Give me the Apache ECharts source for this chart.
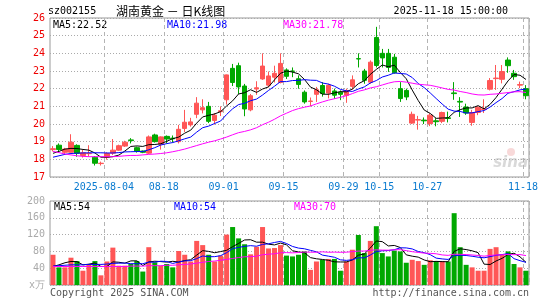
<!DOCTYPE html>
<html>
<head>
<meta charset="utf-8">
<script src="https://cdn.jsdelivr.net/npm/echarts@6/dist/echarts.min.js"></script>
<style>
html, body { margin: 0; padding: 0; background: #fff; }
#main { width: 545px; height: 300px; }
</style>
</head>
<body>
<div id="main"></div>
<script>
// trading days shown on the chart
const dates = [
    '2025-07-22','2025-07-23','2025-07-24','2025-07-25','2025-07-28','2025-07-29','2025-07-30','2025-07-31',
    '2025-08-01','2025-08-04','2025-08-05','2025-08-06','2025-08-07','2025-08-08','2025-08-11','2025-08-12',
    '2025-08-13','2025-08-14','2025-08-15','2025-08-18','2025-08-19','2025-08-20','2025-08-21','2025-08-22',
    '2025-08-25','2025-08-26','2025-08-27','2025-08-28','2025-08-29','2025-09-01','2025-09-02','2025-09-03',
    '2025-09-04','2025-09-05','2025-09-08','2025-09-09','2025-09-10','2025-09-11','2025-09-12','2025-09-15',
    '2025-09-16','2025-09-17','2025-09-18','2025-09-19','2025-09-22','2025-09-23','2025-09-24','2025-09-25',
    '2025-09-26','2025-09-29','2025-09-30','2025-10-09','2025-10-10','2025-10-13','2025-10-14','2025-10-15',
    '2025-10-16','2025-10-17','2025-10-20','2025-10-21','2025-10-22','2025-10-23','2025-10-24','2025-10-27',
    '2025-10-28','2025-10-29','2025-10-30','2025-10-31','2025-11-03','2025-11-04','2025-11-05','2025-11-06',
    '2025-11-07','2025-11-10','2025-11-11','2025-11-12','2025-11-13','2025-11-14','2025-11-17','2025-11-18'
];
// days that get a grid line + label
const markDays = ['2025-08-04','2025-08-18','2025-09-01','2025-09-15','2025-09-29','2025-10-15','2025-10-27','2025-11-18'];

const openP = [18.55,18.8,18.4,18.4,18.79,18.22,18.32,18.12,17.76,18.12,
    18.35,18.52,18.75,19.1,18.66,18.47,18.35,19.38,18.86,19.3,
    19.2,19.0,19.75,19.95,20.55,20.8,21.0,20.2,20.7,21.37,
    23.15,23.3,22.15,20.8,21.98,22.55,22.2,22.65,22.35,23.06,
    23.0,22.56,21.8,21.28,21.68,22.18,21.75,21.87,21.8,21.62,
    22.13,23.7,23.0,22.37,24.9,24.0,24.0,23.78,22.0,21.9,
    20.05,20.22,20.22,20.02,20.18,20.15,20.35,21.76,21.28,20.96,
    20.09,20.65,20.82,21.97,22.57,22.53,23.62,22.87,22.2,22.0];
const closeP = [18.6,18.56,18.58,18.97,18.34,18.37,18.33,17.78,17.78,18.33,
    18.52,18.77,18.97,19.06,18.47,18.4,19.27,19.0,19.27,19.15,
    19.16,19.7,20.1,20.12,21.18,20.92,20.15,20.5,20.75,22.78,
    22.35,22.1,20.85,21.6,22.05,23.28,22.72,22.87,23.43,22.7,
    22.98,22.24,21.25,21.3,21.94,21.72,22.19,21.63,21.68,21.9,
    22.5,23.68,22.47,23.5,23.31,23.74,23.2,22.9,21.44,21.53,
    20.55,20.25,20.18,20.5,20.13,20.65,20.31,21.72,21.24,20.62,
    20.65,20.95,20.86,22.46,22.6,22.97,23.3,22.68,22.23,21.6];
const lowP = [18.45,18.4,18.3,18.38,18.15,18.1,18.15,17.65,17.65,17.98,
    18.25,18.48,18.7,18.9,18.38,18.35,18.3,18.95,18.55,18.9,
    18.95,18.9,19.55,19.85,20.33,20.6,20.05,19.97,20.45,21.1,
    22.15,21.7,20.44,20.72,21.65,22.5,22.08,22.35,22.3,22.55,
    22.65,22.0,21.15,21.0,21.25,21.55,21.45,21.43,21.35,21.2,
    21.95,23.2,22.28,22.28,23.2,23.2,22.95,22.85,21.25,21.35,
    20.0,19.68,20.0,19.88,19.87,20.05,20.09,21.37,20.4,20.52,
    19.9,20.5,20.62,21.9,21.93,22.3,22.9,22.5,22.03,21.4];
const highP = [18.75,18.9,18.65,19.42,18.85,18.55,18.8,18.18,17.87,18.4,
    19.15,18.83,19.05,19.2,18.72,18.5,19.35,19.45,19.3,19.35,
    19.35,19.95,20.8,20.35,21.52,21.4,21.25,20.62,21.0,22.8,
    23.4,23.47,22.27,21.7,22.42,24.0,22.97,23.3,24.0,23.15,
    23.2,22.75,21.9,21.5,22.1,22.37,22.28,22.0,21.9,22.0,
    22.75,24.0,23.12,23.6,25.5,24.25,24.25,23.97,22.37,22.0,
    20.7,20.46,20.37,20.6,20.33,20.7,20.7,22.37,21.52,21.15,
    20.8,21.0,21.4,22.6,23.34,23.34,23.77,23.06,22.4,22.2];

const ma5 = [18.34,18.45,18.58,18.62,18.61,18.56,18.52,18.36,18.12,18.12,
    18.15,18.24,18.47,18.73,18.76,18.73,18.83,18.84,18.88,19.02,
    19.17,19.26,19.48,19.65,20.05,20.40,20.49,20.57,20.70,21.02,
    21.31,21.70,21.77,21.94,21.79,21.98,22.10,22.50,22.87,23.00,
    22.94,22.84,22.52,22.09,21.94,21.69,21.68,21.76,21.83,21.82,
    21.98,22.28,22.45,22.81,23.09,23.34,23.24,23.33,22.92,22.56,
    21.92,21.33,20.79,20.60,20.32,20.34,20.35,20.66,20.81,20.91,
    20.91,21.04,20.86,21.11,21.50,21.97,22.44,22.80,22.76,22.52];
const ma10 = [18.12,18.2,18.28,18.33,18.35,18.36,18.37,18.37,18.37,18.36,
    18.36,18.38,18.42,18.43,18.44,18.44,18.54,18.66,18.81,18.89,
    18.95,19.05,19.16,19.26,19.54,19.79,19.88,20.03,20.17,20.54,
    20.86,21.10,21.17,21.32,21.41,21.64,21.90,22.14,22.40,22.40,
    22.46,22.47,22.51,22.48,22.47,22.32,22.26,22.14,21.96,21.88,
    21.84,21.98,22.10,22.32,22.46,22.66,22.76,22.89,22.86,22.83,
    22.63,22.29,22.06,21.76,21.44,21.13,20.84,20.73,20.71,20.62,
    20.63,20.70,20.76,20.96,21.21,21.44,21.74,21.83,21.93,21.98];
const ma30 = [18.45,18.38,18.3,18.25,18.2,18.17,18.15,18.15,18.15,18.15,
    18.15,18.17,18.2,18.22,18.22,18.25,18.28,18.3,18.33,18.37,
    18.43,18.5,18.58,18.68,18.78,18.88,18.97,19.05,19.15,19.26,
    19.39,19.51,19.58,19.67,19.79,19.96,20.10,20.27,20.46,20.61,
    20.76,20.87,20.95,21.02,21.14,21.25,21.35,21.43,21.51,21.60,
    21.72,21.85,21.93,22.04,22.11,22.21,22.31,22.39,22.41,22.37,
    22.31,22.25,22.22,22.19,22.12,22.04,21.96,21.92,21.84,21.78,
    21.70,21.65,21.64,21.68,21.70,21.74,21.78,21.82,21.83,21.78];

// volume, 万手
const volume = [72,42,42,65,57,34,50,57,23,56,
    89,46,46,50,57,32,90,54,46,50,
    42,81,72,56,105,95,72,56,70,120,
    138,111,97,73,91,138,87,88,95,70,
    68,72,80,36,56,60,62,62,34,56,
    84,119,76,105,140,76,68,82,80,53,
    60,57,48,59,57,57,56,171,90,48,
    42,34,34,86,90,73,80,50,42,34];
const volMa5 = [44,48,53,56,55.6,48,49.6,52.6,44.2,44,
    55,54.2,52,57.4,57.6,46.2,55,56.6,55.8,54.4,
    56.4,54.6,58.2,60.2,71.2,81.8,80,76.8,79.6,82.6,
    91.2,99,107.2,107.8,102,102,97.2,95.4,99.8,95.6,
    81.6,78.6,77,65.2,62.4,60.8,58.8,55.2,54.8,54.8,
    59.6,71,73.8,88,104.8,103.2,93,94.2,89.2,71.8,
    68.6,66.4,59.6,55.4,56.2,55.6,55.4,80,86.2,84.4,
    81.4,77,49.6,48.8,57.2,63.4,72.6,75.8,67,54];
const volMa10 = [45,46,47,48,48,48,49,49,49,49.8,
    51.5,51.9,52.3,50.8,50.8,50.6,54.6,54.3,56.6,56,
    51.3,54.8,57.4,58,62.8,69.1,67.3,67.5,69.9,76.9,
    86.5,89.5,92,93.7,92.3,96.6,98.1,101.3,103.8,98.8,
    91.8,87.9,86.2,82.5,79,71.2,68.7,66.1,60,58.6,
    60.2,64.9,64.5,71.4,79.8,81.4,82,84,88.6,88.3,
    85.9,79.7,76.9,72.3,64,62.1,60.9,69.8,70.8,70.3,
    68.5,66.2,64.8,67.5,70.8,72.4,74.8,62.7,57.9,54];
const volMa30 = [44,44,44,44,44,44,44,44,44,44,
    44,44,44,45,45,45,46,46,46,47,
    47,48,49,50,52,54,56,57,59,60.9,
    63.1,65.4,67.2,67.5,68.6,72.1,73.3,74.4,76.8,77.2,
    76.5,77.4,78.5,78.1,78,79,78,78.3,77.9,78.1,
    79.5,80.8,80.9,82.5,83.7,83.1,82.9,83.8,84.1,81.9,
    79.3,77.5,75.9,75.4,74.3,71.6,70.5,73.3,73.1,72.4,
    71.5,70.3,68.7,70.4,71.5,72,72.6,72.2,72.4,70];

const UP = '#ff5656';
const DOWN = '#00a800';
const MONO = '"DejaVu Sans Mono", monospace';

let chart = echarts.init(document.getElementById('main'), null, {renderer: 'canvas'});

let kData = dates.map((d, i) => [openP[i], closeP[i], lowP[i], highP[i]]);
let volData = volume.map((v, i) => ({
    value: v,
    itemStyle: {color: closeP[i] >= openP[i] ? UP : DOWN}
}));
let isMark = (idx) => markDays.indexOf(dates[idx]) >= 0;

function xAxisCfg(gridIndex, showLabel) {
    return {
        type: 'category',
        gridIndex: gridIndex,
        data: dates,
        boundaryGap: true,
        axisLine: {show: false},
        axisTick: {show: false},
        axisLabel: {
            show: showLabel,
            interval: (idx) => isMark(idx),
            formatter: (v, idx) => idx === 9 ? v : v.slice(5),
            color: '#0a7bd0',
            fontFamily: MONO,
            fontSize: 10,
            margin: 5,
            padding: [0, 6, 0, 0]
        },
        splitLine: {
            show: true,
            interval: (idx) => isMark(idx),
            lineStyle: {color: '#b4b4b4', type: [4, 3], width: 1}
        }
    };
}

function txt(x, y, text, color, align, font) {
    return {
        type: 'text', x: x, y: y, silent: true,
        style: {
            text: text, fill: color, font: font || ('10px ' + MONO),
            textAlign: align || 'left', align: align || 'left',
            textVerticalAlign: 'middle', verticalAlign: 'middle'
        }
    };
}

let option = {
    animation: false,
    backgroundColor: '#fff',
    grid: [
        {left: 50, width: 479, top: 18, height: 159, show: true, borderColor: '#999', borderWidth: 1},
        {left: 50, width: 479, top: 201, height: 84, show: true, borderColor: '#999', borderWidth: 1}
    ],
    xAxis: [xAxisCfg(0, true), xAxisCfg(1, false)],
    yAxis: [
        {
            type: 'value', gridIndex: 0, min: 17, max: 26, interval: 1,
            axisLine: {show: false}, axisTick: {show: false},
            axisLabel: {color: '#ee0000', fontFamily: MONO, fontSize: 10, margin: 5},
            splitLine: {lineStyle: {color: '#aaa', type: [1, 2]}}
        },
        {
            type: 'value', gridIndex: 1, min: 0, max: 200, interval: 40,
            axisLine: {show: false}, axisTick: {show: false},
            axisLabel: {
                color: '#aaa', fontFamily: MONO, fontSize: 10, margin: 5,
                formatter: (v) => v === 0 ? 'x万' : v
            },
            splitLine: {lineStyle: {color: '#aaa', type: [1, 2]}}
        }
    ],
    graphic: [
        txt(48, 11, 'sz002155', '#000'),
        txt(116, 11, '湖南黄金 － 日K线图', '#000', 'left', '12px "Noto Sans CJK SC"'),
        txt(508, 11, '2025-11-18 15:00:00', '#000', 'right'),
        txt(53, 25, 'MA5:' + ma5[ma5.length - 1].toFixed(2), '#000'),
        txt(167, 25, 'MA10:' + ma10[ma10.length - 1].toFixed(2), '#0000ff'),
        txt(283, 25, 'MA30:' + ma30[ma30.length - 1].toFixed(2), '#ff00ff'),
        txt(54, 207, 'MA5:' + volMa5[volMa5.length - 1], '#000'),
        txt(174, 207, 'MA10:' + volMa10[volMa10.length - 1], '#0000ff'),
        txt(294, 207, 'MA30:' + volMa30[volMa30.length - 1], '#ff00ff'),
        txt(50, 293, 'Copyright 2025 SINA.COM', '#555'),
        txt(529, 293, 'http://finance.sina.com.cn', '#555', 'right'),
        // faint sina watermark
        {
            type: 'text', x: 528, y: 163, silent: true, z: 0,
            style: {
                text: 'sina', fill: 'rgba(185,185,185,0.55)',
                font: 'italic bold 15px "DejaVu Sans"',
                textAlign: 'right', align: 'right', textVerticalAlign: 'middle', verticalAlign: 'middle'
            }
        },
        {
            type: 'circle', shape: {cx: 511, cy: 152, r: 4}, silent: true, z: 0,
            style: {fill: 'rgba(240,170,170,0.45)'}
        }
    ],
    series: [
        {
            type: 'candlestick', xAxisIndex: 0, yAxisIndex: 0,
            data: kData, barWidth: 5,
            itemStyle: {color: UP, color0: DOWN, borderColor: UP, borderColor0: DOWN, borderWidth: 1}
        },
        {type: 'line', xAxisIndex: 0, yAxisIndex: 0, data: ma5, symbol: 'none', lineStyle: {color: '#000', width: 1}},
        {type: 'line', xAxisIndex: 0, yAxisIndex: 0, data: ma10, symbol: 'none', lineStyle: {color: '#0000ff', width: 1}},
        {type: 'line', xAxisIndex: 0, yAxisIndex: 0, data: ma30, symbol: 'none', lineStyle: {color: '#ff00ff', width: 1}},
        {type: 'bar', xAxisIndex: 1, yAxisIndex: 1, data: volData, barWidth: 5},
        {type: 'line', xAxisIndex: 1, yAxisIndex: 1, data: volMa5, symbol: 'none', lineStyle: {color: '#000', width: 1}},
        {type: 'line', xAxisIndex: 1, yAxisIndex: 1, data: volMa10, symbol: 'none', lineStyle: {color: '#0000ff', width: 1}},
        {type: 'line', xAxisIndex: 1, yAxisIndex: 1, data: volMa30, symbol: 'none', lineStyle: {color: '#ff00ff', width: 1}}
    ]
};
chart.setOption(option);
</script>
</body>
</html>
